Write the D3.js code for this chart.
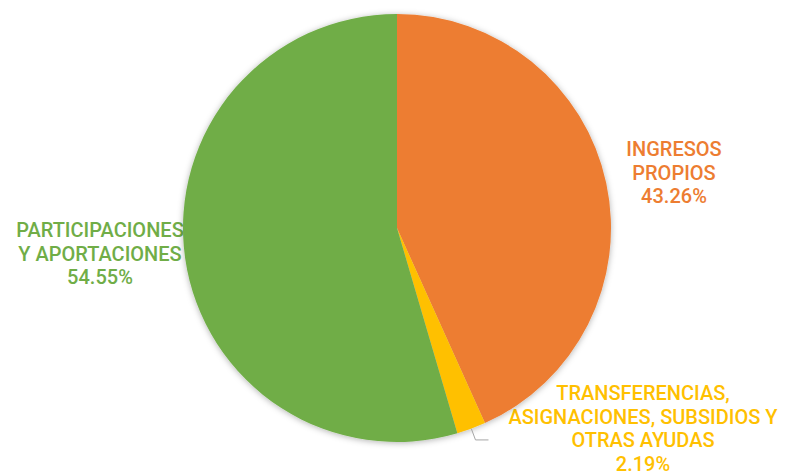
<!DOCTYPE html>
<html>
<head>
<meta charset="utf-8">
<script src="https://cdn.jsdelivr.net/npm/d3@7"></script>
<style>
  body { margin: 0; background: #fff; }
  svg { display: block; }
  .lbl { font-family: Roboto, "DejaVu Sans Condensed", sans-serif; font-size: 20px; font-weight: 500; text-anchor: middle; }
</style>
</head>
<body>
<svg width="787" height="471"></svg>
<script>
// data
let categories = ["INGRESOS PROPIOS", "TRANSFERENCIAS, ASIGNACIONES, SUBSIDIOS Y OTRAS AYUDAS", "PARTICIPACIONES Y APORTACIONES"];
let values = [43.26, 2.19, 54.55];
let colors = ["#ED7D31", "#FFC000", "#70AD47"];
let labelLines = [
  ["INGRESOS", "PROPIOS", "43.26%"],
  ["TRANSFERENCIAS,", "ASIGNACIONES, SUBSIDIOS Y", "OTRAS AYUDAS", "2.19%"],
  ["PARTICIPACIONES", "Y APORTACIONES", "54.55%"]
];
// label anchor (centre x, first baseline)
let labelPos = [[674, 156], [643, 400], [100, 237]];

let cx = 397, cy = 228, r = 214;
let lineH = 23.5;

let svg = d3.select("svg");

// shadow
let defs = svg.append("defs");
let f = defs.append("filter").attr("id", "shadow")
  .attr("x", "-10%").attr("y", "-10%").attr("width", "120%").attr("height", "120%");
f.append("feDropShadow").attr("dx", 0).attr("dy", 1).attr("stdDeviation", 3)
  .attr("flood-color", "#000").attr("flood-opacity", 0.3);

// labels (drawn under the pie)
let lbl = svg.append("g");
labelLines.forEach(function (lines, i) {
  let t = lbl.append("text").attr("class", "lbl").style("fill", colors[i]);
  lines.forEach(function (s, j) {
    t.append("tspan").attr("x", labelPos[i][0]).attr("y", labelPos[i][1] + j * lineH).text(s);
  });
});

let pie = d3.pie().sort(null).value(d => d);
let arcs = pie(values);
let arc = d3.arc().innerRadius(0).outerRadius(r);

let g = svg.append("g").attr("transform", "translate(" + cx + "," + cy + ")");
g.append("g").attr("filter", "url(#shadow)")
  .selectAll("path")
  .data(arcs)
  .join("path")
  .attr("d", arc)
  .style("fill", (d, i) => colors[i]);

// leader line for the small slice
let small = arcs[1];
let mid = (small.startAngle + small.endAngle) / 2;
let p0 = [Math.sin(mid) * r, -Math.cos(mid) * r];
let p1 = [Math.sin(mid) * (r + 12), -Math.cos(mid) * (r + 12)];
g.append("polyline")
  .attr("points", [p0, p1, [p1[0] + 13, p1[1]]].map(p => p.join(",")).join(" "))
  .style("fill", "none")
  .style("stroke", "#a6a6a6")
  .style("stroke-width", 1);
</script>
</body>
</html>
